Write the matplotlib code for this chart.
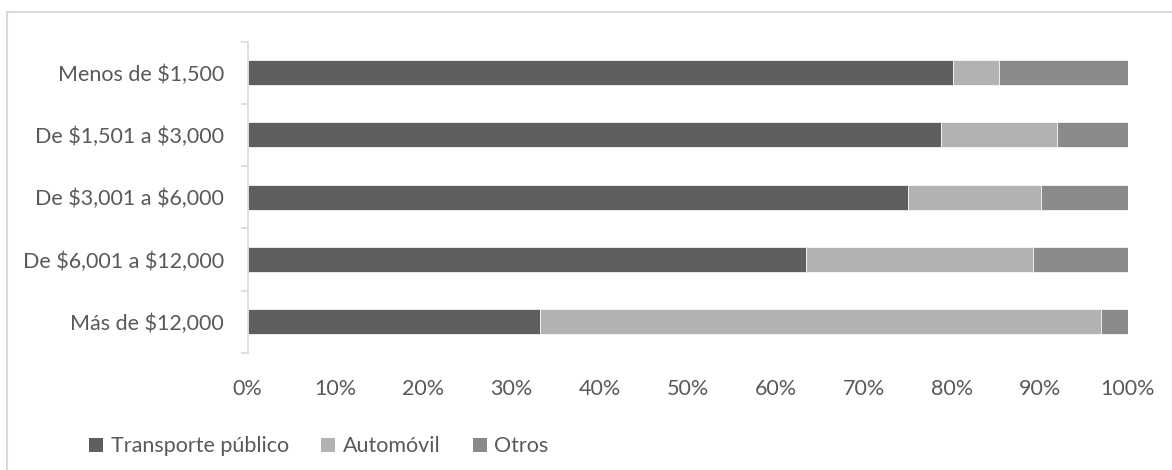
import numpy as np
import matplotlib.pyplot as plt
from matplotlib.patches import Patch
from matplotlib.lines import Line2D
from matplotlib.ticker import FuncFormatter

plt.rcParams['font.family'] = ['Lato', 'DejaVu Sans']

###Income brackets and mode share (percent of trips)
categorias = ['Menos de \\$1,500', 'De \\$1,501 a \\$3,000', 'De \\$3,001 a \\$6,000',
              'De \\$6,001 a \\$12,000', 'Más de \\$12,000']
transporte = [80.2, 78.8, 75.0, 63.4, 33.2]
automovil = [5.2, 13.2, 15.1, 25.8, 63.8]
otros = [14.6, 8.0, 9.9, 10.8, 3.0]

series = ['Transporte público', 'Automóvil', 'Otros']
colores = ['#5f5f5f', '#b2b2b2', '#8a8a8a']
texto = '#595959'
gris = '#d9d9d9'
fs = 15.5

fig = plt.figure(figsize=(11.72, 4.70), dpi=100)
ax = fig.add_axes([0.2112, 0.2489, 0.7510, 0.6628])

y = np.arange(len(categorias))
left = np.zeros(len(categorias))
for vals, col in zip([transporte, automovil, otros], colores):
    ax.barh(y, vals, left=left, height=0.4, color=col, edgecolor='white', linewidth=0.5)
    left += np.array(vals)

ax.set_xlim(0, 100)
ax.set_ylim(len(categorias) - 0.5, -0.5)
ax.set_xticks(np.arange(0, 101, 10))
ax.xaxis.set_major_formatter(FuncFormatter(lambda v, p: f'{v:.0f}%'))
ax.set_yticks(y)
ax.set_yticklabels(categorias)
ax.set_yticks(np.arange(-0.5, len(categorias)), minor=True)

for s in ['top', 'right', 'bottom']:
    ax.spines[s].set_visible(False)
ax.spines['left'].set_color(gris)
ax.spines['left'].set_linewidth(1.2)

ax.tick_params(axis='x', length=0, pad=19, labelsize=fs, labelcolor=texto)
ax.tick_params(axis='y', which='major', length=0, pad=17, labelsize=fs, labelcolor=texto)
ax.tick_params(axis='y', which='minor', length=5, width=1.2, color=gris)

###Legend below the plot
handles = [Patch(facecolor=c, edgecolor='none') for c in colores]
fig.legend(handles, series, loc='center left', bbox_to_anchor=(0.069, 0.050),
           ncol=3, frameon=False, fontsize=fs, labelcolor=texto,
           handlelength=0.65, handleheight=0.65, handletextpad=0.35,
           columnspacing=1.5, borderaxespad=0)

###Chart frame (top and left edges visible)
fig.add_artist(Line2D([7 / 1172, 1], [1 - 12 / 470, 1 - 12 / 470], color=gris, lw=1.5))
fig.add_artist(Line2D([7 / 1172, 7 / 1172], [0, 1 - 12 / 470], color=gris, lw=1.5))

fig.savefig('out.png', dpi=100)
